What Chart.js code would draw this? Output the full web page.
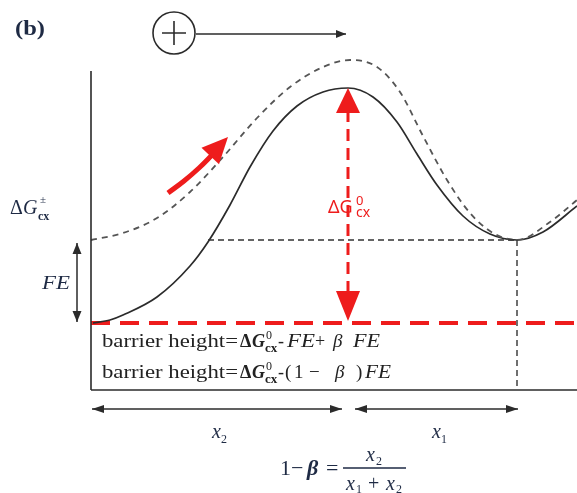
<!DOCTYPE html>
<html>
<head>
<meta charset="utf-8">
<script src="https://cdn.jsdelivr.net/npm/chart.js@4.4.1/dist/chart.umd.min.js"></script>
<style>
  html, body { margin: 0; padding: 0; background: #fff; }
  #wrap { width: 577px; height: 493px; position: relative; }
</style>
</head>
<body>
<div id="wrap"><canvas id="diagram"></canvas></div>
<script>
// Diagram space: x 0..577 left to right, y 0..493 top to bottom
const solidCurve = [
    [93, 323], [110, 320], [123, 315], [157, 297], [190, 266], [208, 242], [230, 205],
    [250, 167], [273, 131], [297, 106], [323, 92], [348, 88], [373, 97], [397, 122],
    [417, 154], [437, 185], [463, 216], [490, 234], [517, 240], [543, 232], [577, 206]
];
const dashedCurve = [
    [91, 240], [123, 233], [157, 218], [190, 192], [223, 157], [257, 118], [290, 87],
    [323, 67], [350, 60], [377, 67], [400, 92], [423, 136], [447, 180], [470, 213],
    [493, 233], [517, 240], [550, 222], [577, 200]
];
const pushArrow = [[168, 193], [184, 181], [199, 168], [213, 154]];
const pushTip = [228, 137];
const xAxisLine = [[91, 390], [577, 390]];
const yAxisLine = [[91, 71], [91, 390]];
const feLevel = [[208, 240], [517, 240]];
const minDrop = [[517, 240], [517, 390]];
const baseLevel = [[91, 323], [577, 323]];
const barrierArrow = [[348, 88], [348, 321]];
const feArrow = [[77, 243], [77, 322]];
const x2Arrow = [[92, 409], [342, 409]];
const x1Arrow = [[355, 409], [518, 409]];
const fieldArrow = [[196, 34], [346, 34]];
const chargeCircle = [174, 33, 21];

const toPts = arr => arr.map(p => ({ x: p[0], y: p[1] }));

const ink = '#2b2b2b';
const red = '#ee1c1c';

function line(data, color, width, dash) {
    return {
        data: toPts(data), showLine: true, borderColor: color, borderWidth: width,
        borderDash: dash || [], pointRadius: 0, tension: 0, fill: false, clip: false
    };
}

function curve(data, color, width, dash) {
    return Object.assign(line(data, color, width, dash), { tension: 0.4, cubicInterpolationMode: 'monotone' });
}

const datasets = [
    line(xAxisLine, ink, 1.6),
    line(yAxisLine, ink, 1.6),
    line(feLevel, '#333', 1.4, [6, 4]),
    line(minDrop, '#333', 1.4, [6, 4]),
    curve(dashedCurve, '#555', 1.8, [6, 5]),
    curve(solidCurve, ink, 1.7),
    line(baseLevel, red, 4, [19, 10]),
    line([[barrierArrow[0][0], barrierArrow[0][1] + 22], [barrierArrow[1][0], barrierArrow[1][1] - 26]], red, 3, [12, 7]),
    Object.assign(line(pushArrow, red, 5), { tension: 0.4 }),
    line(feArrow, ink, 1.5),
    line(x2Arrow, ink, 1.5),
    line(x1Arrow, ink, 1.5),
    line(fieldArrow, ink, 1.5)
];

function head(ctx, sx, sy, tip, from, len, half, color) {
    const tx = sx.getPixelForValue(tip[0]), ty = sy.getPixelForValue(tip[1]);
    const fx = sx.getPixelForValue(from[0]), fy = sy.getPixelForValue(from[1]);
    const a = Math.atan2(ty - fy, tx - fx);
    ctx.save();
    ctx.fillStyle = color;
    ctx.beginPath();
    ctx.moveTo(tx, ty);
    ctx.lineTo(tx - len * Math.cos(a) + half * Math.sin(a), ty - len * Math.sin(a) - half * Math.cos(a));
    ctx.lineTo(tx - len * Math.cos(a) - half * Math.sin(a), ty - len * Math.sin(a) + half * Math.cos(a));
    ctx.closePath();
    ctx.fill();
    ctx.restore();
}

// draw one text piece, optionally squeezed/stretched to a given width
function txt(ctx, s, font, x, y, color, w) {
    ctx.save();
    ctx.font = font;
    ctx.fillStyle = color;
    ctx.textBaseline = 'alphabetic';
    if (w) {
        const k = w / ctx.measureText(s).width;
        ctx.translate(x, y);
        ctx.scale(k, 1);
        ctx.fillText(s, 0, 0);
    } else {
        ctx.fillText(s, x, y);
    }
    ctx.restore();
}

const serif = "'Liberation Serif', 'DejaVu Serif', serif";
const sans = "'Noto Sans', 'DejaVu Sans', sans-serif";

const decorations = {
    id: 'decorations',
    afterDatasetsDraw(chart) {
        const ctx = chart.ctx;
        const sx = chart.scales.x, sy = chart.scales.y;
        const P = (x, y) => [sx.getPixelForValue(x), sy.getPixelForValue(y)];

        // arrow heads
        head(ctx, sx, sy, barrierArrow[0], barrierArrow[1], 25, 12, red);
        head(ctx, sx, sy, barrierArrow[1], barrierArrow[0], 30, 12, red);
        head(ctx, sx, sy, pushTip, pushArrow[pushArrow.length - 2], 26, 12, red);
        head(ctx, sx, sy, feArrow[0], feArrow[1], 11, 4.5, ink);
        head(ctx, sx, sy, feArrow[1], feArrow[0], 11, 4.5, ink);
        head(ctx, sx, sy, x2Arrow[0], x2Arrow[1], 12, 4, ink);
        head(ctx, sx, sy, x2Arrow[1], x2Arrow[0], 12, 4, ink);
        head(ctx, sx, sy, x1Arrow[0], x1Arrow[1], 12, 4, ink);
        head(ctx, sx, sy, x1Arrow[1], x1Arrow[0], 12, 4, ink);
        head(ctx, sx, sy, fieldArrow[1], fieldArrow[0], 10, 4, ink);

        // charge circle with plus
        const [ccx, ccy] = P(chargeCircle[0], chargeCircle[1]);
        ctx.save();
        ctx.strokeStyle = ink;
        ctx.lineWidth = 1.6;
        ctx.beginPath();
        ctx.arc(ccx, ccy, chargeCircle[2], 0, Math.PI * 2);
        ctx.stroke();
        ctx.beginPath();
        ctx.moveTo(ccx - 12, ccy); ctx.lineTo(ccx + 12, ccy);
        ctx.moveTo(ccx, ccy - 12); ctx.lineTo(ccx, ccy + 12);
        ctx.stroke();
        ctx.restore();

        const navy = '#1e2a44';
        const dark = '#222';
        // (b)
        txt(ctx, '(b)', 'bold 20px ' + serif, 15, 35, navy, 30);

        // ΔG‡cx
        txt(ctx, 'Δ', '20px ' + serif, 10, 214, navy);
        txt(ctx, 'G', 'italic 20px ' + serif, 23, 214, navy);
        txt(ctx, '±', '11px ' + serif, 40, 203, navy);
        txt(ctx, 'cx', 'bold 12px ' + serif, 38, 220, navy);

        // FE
        txt(ctx, 'FE', 'italic 19px ' + serif, 42, 289, navy, 28);

        // red ΔG0cx
        txt(ctx, 'ΔG', '18px ' + sans, 328, 213, red);
        txt(ctx, '0', '13px ' + sans, 356, 205, red);
        txt(ctx, 'cx', '14px ' + sans, 356, 217, red);

        // barrier height lines
        [347, 378].forEach((by, i) => {
            txt(ctx, 'barrier height=', '19px ' + serif, 102, by, dark, 136);
            txt(ctx, 'Δ', 'bold 18px ' + serif, 240, by, dark);
            txt(ctx, 'G', 'bold italic 18px ' + serif, 252, by, dark);
            txt(ctx, '0', '12px ' + serif, 266, by - 8, dark);
            txt(ctx, 'cx', 'bold 13px ' + serif, 265, by + 5, dark);
            txt(ctx, '-', '18px ' + serif, 278, by, dark);
            if (i === 0) {
                txt(ctx, 'FE', 'italic 19px ' + serif, 287, by, dark, 28);
                txt(ctx, '+', '18px ' + serif, 315, by, dark);
                txt(ctx, 'β', 'italic 19px ' + serif, 333, by, dark);
                txt(ctx, 'FE', 'italic 19px ' + serif, 353, by, dark, 27);
            } else {
                txt(ctx, '(', '19px ' + serif, 285, by, dark);
                txt(ctx, '1', '19px ' + serif, 294, by, dark);
                txt(ctx, '−', '19px ' + serif, 309, by, dark);
                txt(ctx, 'β', 'italic 19px ' + serif, 335, by, dark);
                txt(ctx, ')', '19px ' + serif, 356, by, dark);
                txt(ctx, 'FE', 'italic 19px ' + serif, 365, by, dark, 26);
            }
        });

        // x2, x1
        txt(ctx, 'x', 'italic 20px ' + serif, 212, 438, navy);
        txt(ctx, '2', '12px ' + serif, 221, 443, navy);
        txt(ctx, 'x', 'italic 20px ' + serif, 432, 438, navy);
        txt(ctx, '1', '12px ' + serif, 441, 443, navy);

        // 1-β = x2/(x1+x2)
        txt(ctx, '1', '22px ' + serif, 280, 475, navy);
        txt(ctx, '−', '22px ' + serif, 291, 475, navy);
        txt(ctx, 'β', 'bold italic 22px ' + serif, 307, 475, navy);
        txt(ctx, '=', '22px ' + serif, 326, 475, navy);
        ctx.save();
        ctx.strokeStyle = navy;
        ctx.lineWidth = 1.3;
        ctx.beginPath();
        ctx.moveTo(343, 468); ctx.lineTo(406, 468);
        ctx.stroke();
        ctx.restore();
        txt(ctx, 'x', 'italic 20px ' + serif, 366, 461, navy);
        txt(ctx, '2', '12px ' + serif, 376, 465, navy);
        txt(ctx, 'x', 'italic 20px ' + serif, 346, 490, navy);
        txt(ctx, '1', '12px ' + serif, 356, 493, navy);
        txt(ctx, '+', '20px ' + serif, 368, 490, navy);
        txt(ctx, 'x', 'italic 20px ' + serif, 386, 490, navy);
        txt(ctx, '2', '12px ' + serif, 396, 493, navy);
    }
};

new Chart(document.getElementById('diagram'), {
    type: 'scatter',
    data: { datasets: datasets },
    options: {
        responsive: true,
        maintainAspectRatio: false,
        animation: false,
        layout: { padding: 0 },
        scales: {
            x: { type: 'linear', min: 0, max: 577, display: false },
            y: { type: 'linear', min: 0, max: 493, reverse: true, display: false }
        },
        plugins: {
            legend: { display: false },
            tooltip: { enabled: false }
        }
    },
    plugins: [decorations]
});
</script>
</body>
</html>
